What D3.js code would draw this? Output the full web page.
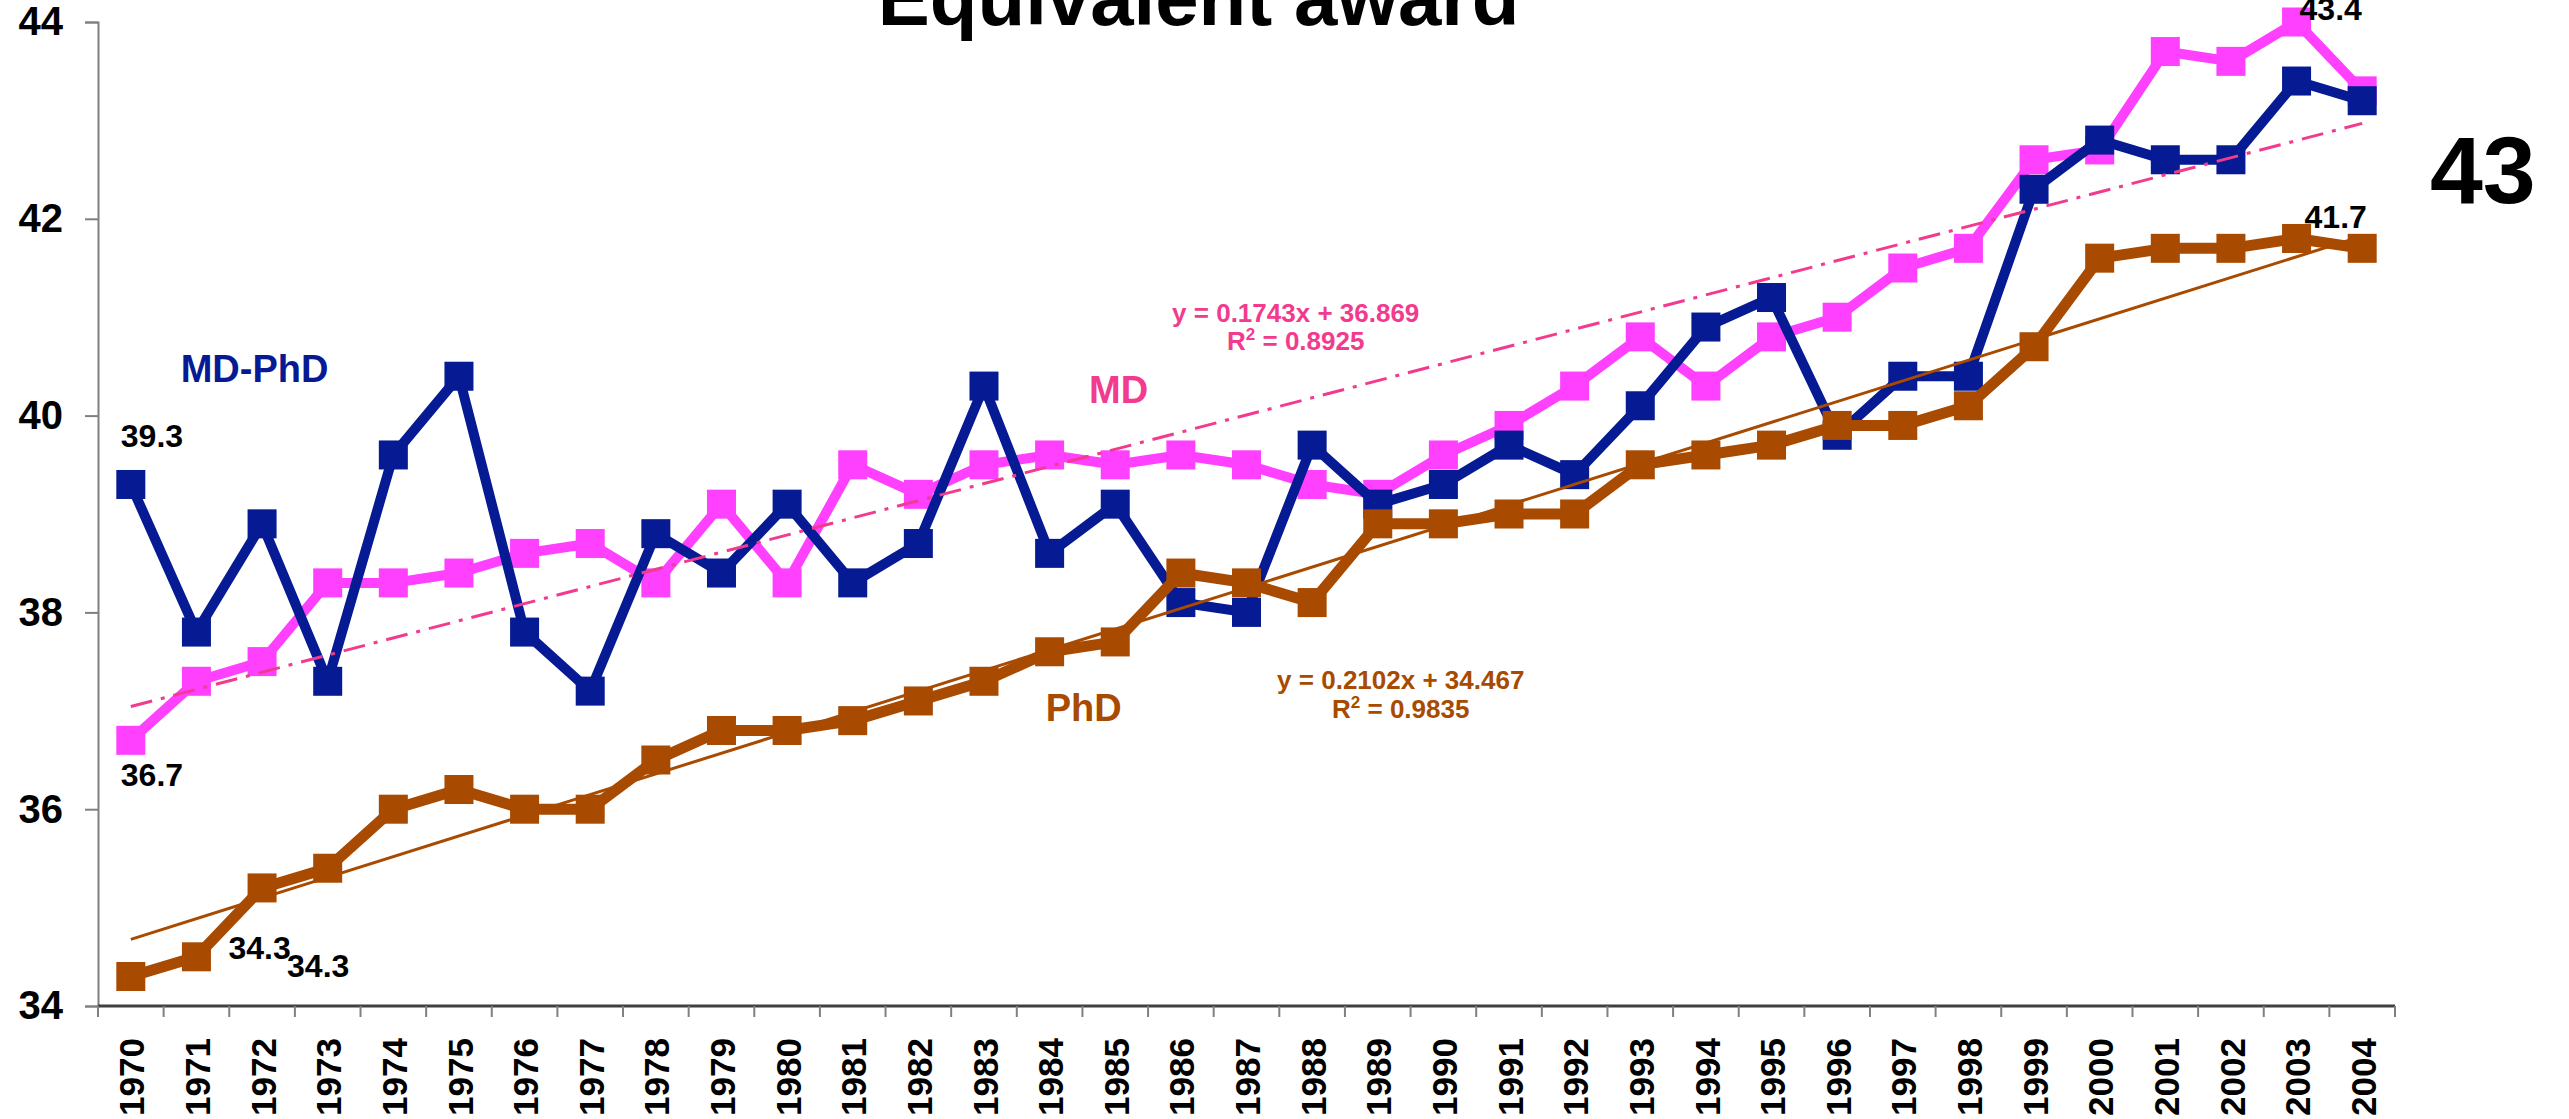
<!DOCTYPE html>
<html>
<head>
<meta charset="utf-8">
<script src="https://cdn.jsdelivr.net/npm/d3@7"></script>
<style>
  html, body { margin: 0; padding: 0; background: #fff; }
  svg { display: block; }
  text { font-family: "Liberation Sans", Arial, sans-serif; font-weight: bold; }
</style>
</head>
<body>
<svg id="chart" width="2569" height="1119"></svg>
<script>
// ---------------- DATA ----------------
const years = [1970,1971,1972,1973,1974,1975,1976,1977,1978,1979,1980,1981,1982,1983,1984,1985,1986,1987,1988,1989,1990,1991,1992,1993,1994,1995,1996,1997,1998,1999,2000,2001,2002,2003,2004];
const mdValues = [36.7,37.3,37.5,38.3,38.3,38.4,38.6,38.7,38.3,39.1,38.3,39.5,39.2,39.5,39.6,39.5,39.6,39.5,39.3,39.2,39.6,39.9,40.3,40.8,40.3,40.8,41.0,41.5,41.7,42.6,42.7,43.7,43.6,44.0,43.3];
const mdphdValues = [39.3,37.8,38.9,37.3,39.6,40.4,37.8,37.2,38.8,38.4,39.1,38.3,38.7,40.3,38.6,39.1,38.1,38.0,39.7,39.1,39.3,39.7,39.4,40.1,40.9,41.2,39.8,40.4,40.4,42.3,42.8,42.6,42.6,43.4,43.2];
const phdValues = [34.3,34.5,35.2,35.4,36.0,36.2,36.0,36.0,36.5,36.8,36.8,36.9,37.1,37.3,37.6,37.7,38.4,38.3,38.1,38.9,38.9,39.0,39.0,39.5,39.6,39.7,39.9,39.9,40.1,40.7,41.6,41.7,41.7,41.8,41.7];
const yTicks = [34,36,38,40,42,44];
// linear trend lines as shown on the chart (x = 1..35)
const mdTrend = { slope: 0.1743, intercept: 36.869, eq: "y = 0.1743x + 36.869", r2: "0.8925" };
const phdTrend = { slope: 0.2102, intercept: 34.467, eq: "y = 0.2102x + 34.467", r2: "0.9835" };
const titleText = "Equivalent award";
const bigLabel = "43";
// value labels: text, year anchor, value anchor
const valueLabels = [
  { text: "39.3", year: 1970, v: 39.3 },
  { text: "36.7", year: 1970, v: 36.7 },
  { text: "34.3", year: 1971, v: 34.5 },
  { text: "34.3", year: 1972, v: 35.2 },
  { text: "43.4", year: 2003, v: 44.0 },
  { text: "41.7", year: 2003, v: 41.8 }
];

// ---------------- STYLE / LAYOUT ----------------
const C = {
  md: "#FF40FF", mdText: "#F23A8E",
  mdphd: "#061A93",
  phd: "#A84A00"
};
const plot = { left: 98, right: 2395, top: 22, bottom: 1006 };
const svg = d3.select("#chart");

const x = d3.scaleBand().domain(years).range([plot.left, plot.right]).padding(0);
const cx = yr => x(yr) + x.bandwidth() / 2;
const y = d3.scaleLinear().domain([34, 44]).range([plot.bottom, plot.top]);

// ---------------- AXES ----------------
const yAxis = d3.axisLeft(y).tickValues(yTicks).tickSize(13).tickPadding(22).tickFormat(d3.format("d"));
const gy = svg.append("g").attr("transform", `translate(${plot.left},0)`).call(yAxis);
gy.select(".domain").attr("stroke", "#808080").attr("stroke-width", 2);
gy.selectAll(".tick line").attr("stroke", "#808080").attr("stroke-width", 2);
gy.selectAll(".tick text").attr("font-size", 40).attr("fill", "#000")
  .attr("font-family", "Liberation Sans, Arial, sans-serif").attr("font-weight", "bold");

// x axis: ticks between categories
const gx = svg.append("g");
gx.append("line").attr("x1", plot.left).attr("x2", plot.right)
  .attr("y1", plot.bottom).attr("y2", plot.bottom)
  .attr("stroke", "#404040").attr("stroke-width", 3);
const boundaries = years.map(yr => x(yr)).concat([x(years[years.length - 1]) + x.bandwidth()]);
gx.selectAll("line.tk").data(boundaries).enter().append("line").attr("class", "tk")
  .attr("x1", d => d).attr("x2", d => d)
  .attr("y1", plot.bottom).attr("y2", plot.bottom + 11)
  .attr("stroke", "#808080").attr("stroke-width", 2);
gx.selectAll("text.yr").data(years).enter().append("text").attr("class", "yr")
  .attr("transform", d => `translate(${cx(d) + 1},${plot.bottom + 32}) rotate(-90)`)
  .attr("text-anchor", "end").attr("dy", "0.36em")
  .attr("font-size", 35).attr("fill", "#000")
  .text(d => d);

// ---------------- SERIES ----------------
const series = [
  { name: "MD", values: mdValues, color: C.md, width: 10 },
  { name: "MD-PhD", values: mdphdValues, color: C.mdphd, width: 10 },
  { name: "PhD", values: phdValues, color: C.phd, width: 11 }
];
const line = d3.line().x(d => cx(d.year)).y(d => y(d.v));
const sq = 29;
series.forEach(s => {
  const pts = years.map((yr, i) => ({ year: yr, v: s.values[i] }));
  const g = svg.append("g");
  g.append("path").datum(pts).attr("d", line)
    .attr("fill", "none").attr("stroke", s.color).attr("stroke-width", s.width)
    .attr("stroke-linejoin", "round");
  g.selectAll("rect").data(pts).enter().append("rect")
    .attr("x", d => cx(d.year) - sq / 2).attr("y", d => y(d.v) - sq / 2)
    .attr("width", sq).attr("height", sq).attr("fill", s.color);
});

// ---------------- TREND LINES ----------------
function trendPts(t) {
  return years.map((yr, i) => ({ year: yr, v: t.slope * (i + 1) + t.intercept }))
    .filter((d, i, a) => i === 0 || i === a.length - 1);
}
svg.append("path").datum(trendPts(mdTrend)).attr("d", line)
  .attr("fill", "none").attr("stroke", C.mdText).attr("stroke-width", 3)
  .attr("stroke-dasharray", "22,9,4,9");
svg.append("path").datum(trendPts(phdTrend)).attr("d", line)
  .attr("fill", "none").attr("stroke", C.phd).attr("stroke-width", 3);

// ---------------- TEXT ----------------
const bw = x.bandwidth();
// title (partially above the canvas)
svg.append("text").attr("x", cx(1986) + bw * 0.27).attr("y", y(44) + 3)
  .attr("text-anchor", "middle").attr("font-size", 78).attr("fill", "#000").text(titleText);

// value labels
const labelOffsets = [
  { dx: -10, dy: -37 }, { dx: -10, dy: 46 }, { dx: 32, dy: 2 },
  { dx: 25, dy: 89 }, { dx: 3, dy: -2 }, { dx: 8, dy: -10 }
];
valueLabels.forEach((l, i) => {
  svg.append("text").attr("x", cx(l.year) + labelOffsets[i].dx)
    .attr("y", y(l.v) + labelOffsets[i].dy)
    .attr("font-size", 32).attr("fill", "#000").text(l.text);
});
// big "43" label on the right
svg.append("text").attr("x", plot.right + 35).attr("y", y(42.16))
  .attr("font-size", 95).attr("fill", "#000").text(bigLabel);

// series labels
svg.append("text").attr("x", cx(1970) + bw * 0.76).attr("y", y(40.34))
  .attr("font-size", 38).attr("fill", C.mdphd).text("MD-PhD");
svg.append("text").attr("x", cx(1985) - bw * 0.4).attr("y", y(40.13))
  .attr("font-size", 38).attr("fill", C.mdText).text("MD");
svg.append("text").attr("x", cx(1984) - bw * 0.06).attr("y", y(36.9))
  .attr("font-size", 38).attr("fill", C.phd).text("PhD");

// trend equations
function eqLabel(t, xc, v1, v2, color) {
  svg.append("text").attr("x", xc).attr("y", y(v1)).attr("text-anchor", "middle")
    .attr("font-size", 26).attr("fill", color).text(t.eq);
  const r = svg.append("text").attr("x", xc).attr("y", y(v2)).attr("text-anchor", "middle")
    .attr("font-size", 26).attr("fill", color);
  r.append("tspan").text("R");
  r.append("tspan").attr("font-size", 17).attr("dy", "-0.55em").text("2");
  r.append("tspan").attr("dy", "0.36em").text(" = " + t.r2);
}
eqLabel(mdTrend, cx(1987) + bw * 0.75, 40.95, 40.67, C.mdText);
eqLabel(phdTrend, cx(1989) + bw * 0.35, 37.22, 36.93, C.phd);
</script>
</body>
</html>
